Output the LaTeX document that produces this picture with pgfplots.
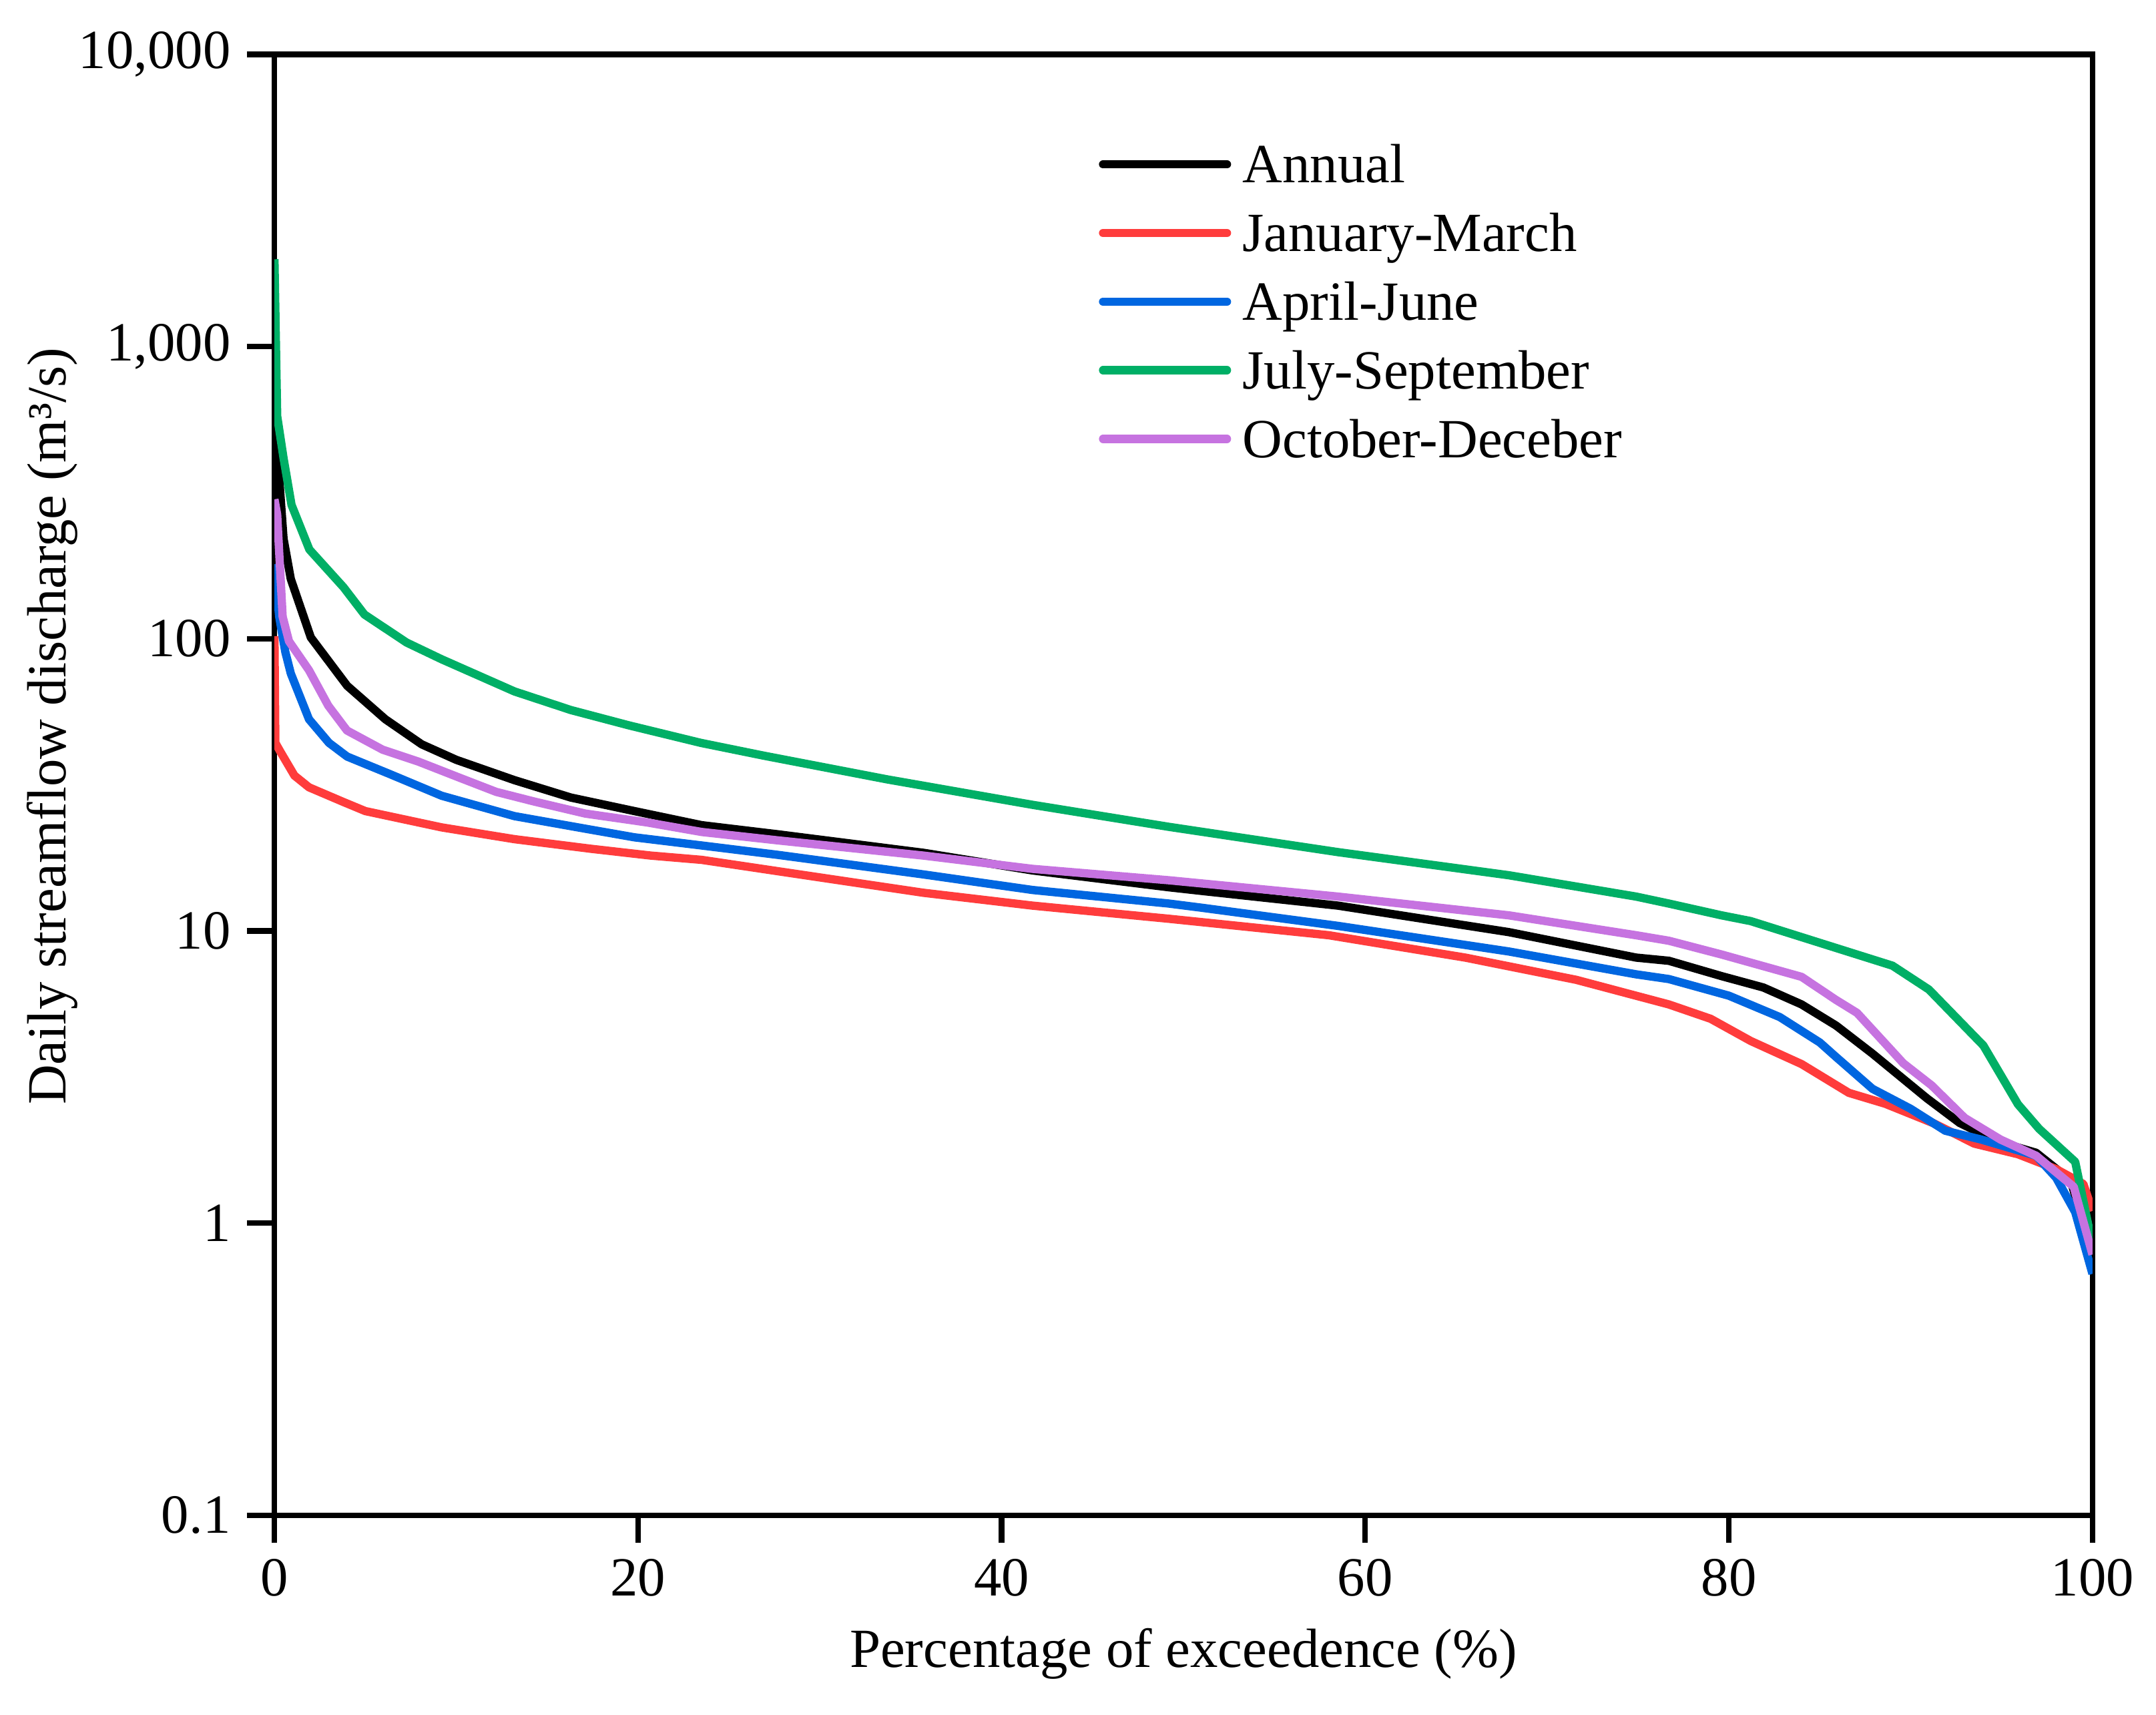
\documentclass[border=0pt]{standalone}
\usepackage{fontspec}
\setmainfont{Liberation Serif}
\usepackage{pgfplots}
\usepackage{pgfplotstable}
\pgfplotsset{compat=1.18}

\definecolor{cJan}{HTML}{FF3C3C}
\definecolor{cApr}{HTML}{0066E0}
\definecolor{cJul}{HTML}{00AF66}
\definecolor{cOct}{HTML}{C673E0}

% flow duration curves (x in %, y in m3/s)
\pgfplotstableread{
x y
0 600
0.5 220
0.9 160
2.0 101
4.0 69
6.1 53
8.1 43.5
10.0 38.5
13.2 32.8
16.3 28.6
19.8 25.7
23.5 23.0
27.7 21.4
35.7 18.5
41.7 16.1
49.2 14.1
51.0 13.7
58.5 12.2
67.9 9.9
74.9 8.1
76.7 7.9
79.6 7.0
81.9 6.4
84.0 5.6
85.9 4.74
87.9 3.8
90.9 2.67
92.7 2.2
94.8 1.9
96.9 1.74
98.8 1.4
100 0.78
}\annual

\pgfplotstableread{
x y
0 102
0.05 44
0.33 41
1.1 34
1.9 31
3.8 27.6
5.0 25.7
9.2 22.6
13.2 20.6
17.4 19.1
20.7 18.1
23.5 17.5
27.7 16.0
35.7 13.5
41.7 12.2
49.2 11.0
58.0 9.66
65.5 8.1
71.6 6.8
76.7 5.6
79.0 5.0
81.2 4.2
84.0 3.5
86.6 2.79
88.6 2.56
91.3 2.19
93.5 1.87
95.9 1.72
98.0 1.53
99.5 1.36
100 1.1
}\janmar

\pgfplotstableread{
x y
0 180
0.26 119
0.6 90
0.9 76
1.9 53
3.0 44
4.0 39.5
6.3 34.5
9.2 29
13.2 24.7
17.4 22.2
19.8 20.9
23.5 19.6
27.7 18.2
35.7 15.6
41.7 13.8
49.2 12.4
51.0 12.0
58.5 10.4
67.9 8.5
74.9 7.1
76.7 6.84
80.0 6.0
82.8 5.07
85.0 4.15
85.9 3.7
87.9 2.88
90.0 2.46
91.9 2.07
93.9 1.93
96.9 1.70
98.0 1.43
99.05 1.09
100 0.67
}\aprjun

\pgfplotstableread{
x y
0 1990
0.15 578
0.5 415
0.94 287
1.92 202
3.8 150
4.95 121
7.27 97
9.2 85
13.2 66
16.3 57
19.5 50.5
23.45 44
26.9 39.8
33.7 33
41.7 27
49.2 22.7
58.5 18.6
67.9 15.5
74.9 13.1
76.7 12.4
79.6 11.3
81.2 10.8
85.0 9.1
89.0 7.6
91.0 6.3
94.0 4.05
95.9 2.55
97.07 2.1
99.05 1.62
100 0.84
}\julsep

\pgfplotstableread{
x y
0 300
0.15 266
0.45 119
0.8 98
1.9 78
2.96 59
3.99 48.5
5.95 41.7
7.9 38
10.2 33.4
12.2 29.9
14.3 27.7
17.1 25.2
20.5 23.5
23.5 21.8
27.7 20.4
35.7 18.1
41.7 16.3
49.2 14.9
58.5 13.1
67.9 11.3
74.9 9.66
76.7 9.25
79.6 8.3
84.0 6.96
85.9 5.8
87.05 5.24
89.6 3.52
91.15 2.96
92.97 2.29
94.95 1.93
96.9 1.70
98.97 1.33
100 0.78
}\octdec

\begin{document}
\begin{tikzpicture}
\begin{axis}[
    scale only axis,
    width=394.8pt, height=317.2pt,
    xmin=0, xmax=100,
    ymode=log, ymin=0.1, ymax=10000,
    xtick={0,20,40,60,80,100},
    ytick={0.1,1,10,100,1000,10000},
    yticklabels={0.1,1,10,100,{1,000},{10,000}},
    yminorticks=false,
    tick align=outside,
    xtick pos=bottom, ytick pos=left,
    major tick length=6pt,
    tick style={black, line width=1.2pt},
    axis line style={line width=1.2pt},
    /pgf/number format/assume math mode=true,
    tick label style={font=\fontsize{12}{14}\selectfont},
    label style={font=\fontsize{12}{14}\selectfont},
    xlabel={Percentage of exceedence (\%)},
    ylabel={Daily streamflow discharge (m³/s)},
    ylabel style={at={(axis description cs:0,0.54)}, anchor=center, yshift=48.3pt},
    legend style={draw=none, fill=none, at={(axis description cs:0.453,0.9442)},
        anchor=north west, inner sep=0pt, row sep=2.9pt, column sep=2.5pt,
        nodes={inner sep=0pt, text height=10pt, text depth=2pt},
        font=\fontsize{12}{14}\selectfont},
    legend cell align=left,
    legend image code/.code={\draw[#1, line cap=round] (0.9pt,0pt) -- (27.8pt,0pt);},
    every axis plot/.append style={line width=1.8pt, line join=round},
]
\addplot[black] table[x=x, y=y] {\annual};
\addlegendentry{Annual}
\addplot[cJan] table[x=x, y=y] {\janmar};
\addlegendentry{January-March}
\addplot[cApr] table[x=x, y=y] {\aprjun};
\addlegendentry{April-June}
\addplot[cJul] table[x=x, y=y] {\julsep};
\addlegendentry{July-September}
\addplot[cOct] table[x=x, y=y] {\octdec};
\addlegendentry{October-Deceber}
\end{axis}
\path ([shift={(-59.6pt,-43.3pt)}]current axis.south west) rectangle ([shift={(13.8pt,11.8pt)}]current axis.north east);
\end{tikzpicture}
\end{document}
